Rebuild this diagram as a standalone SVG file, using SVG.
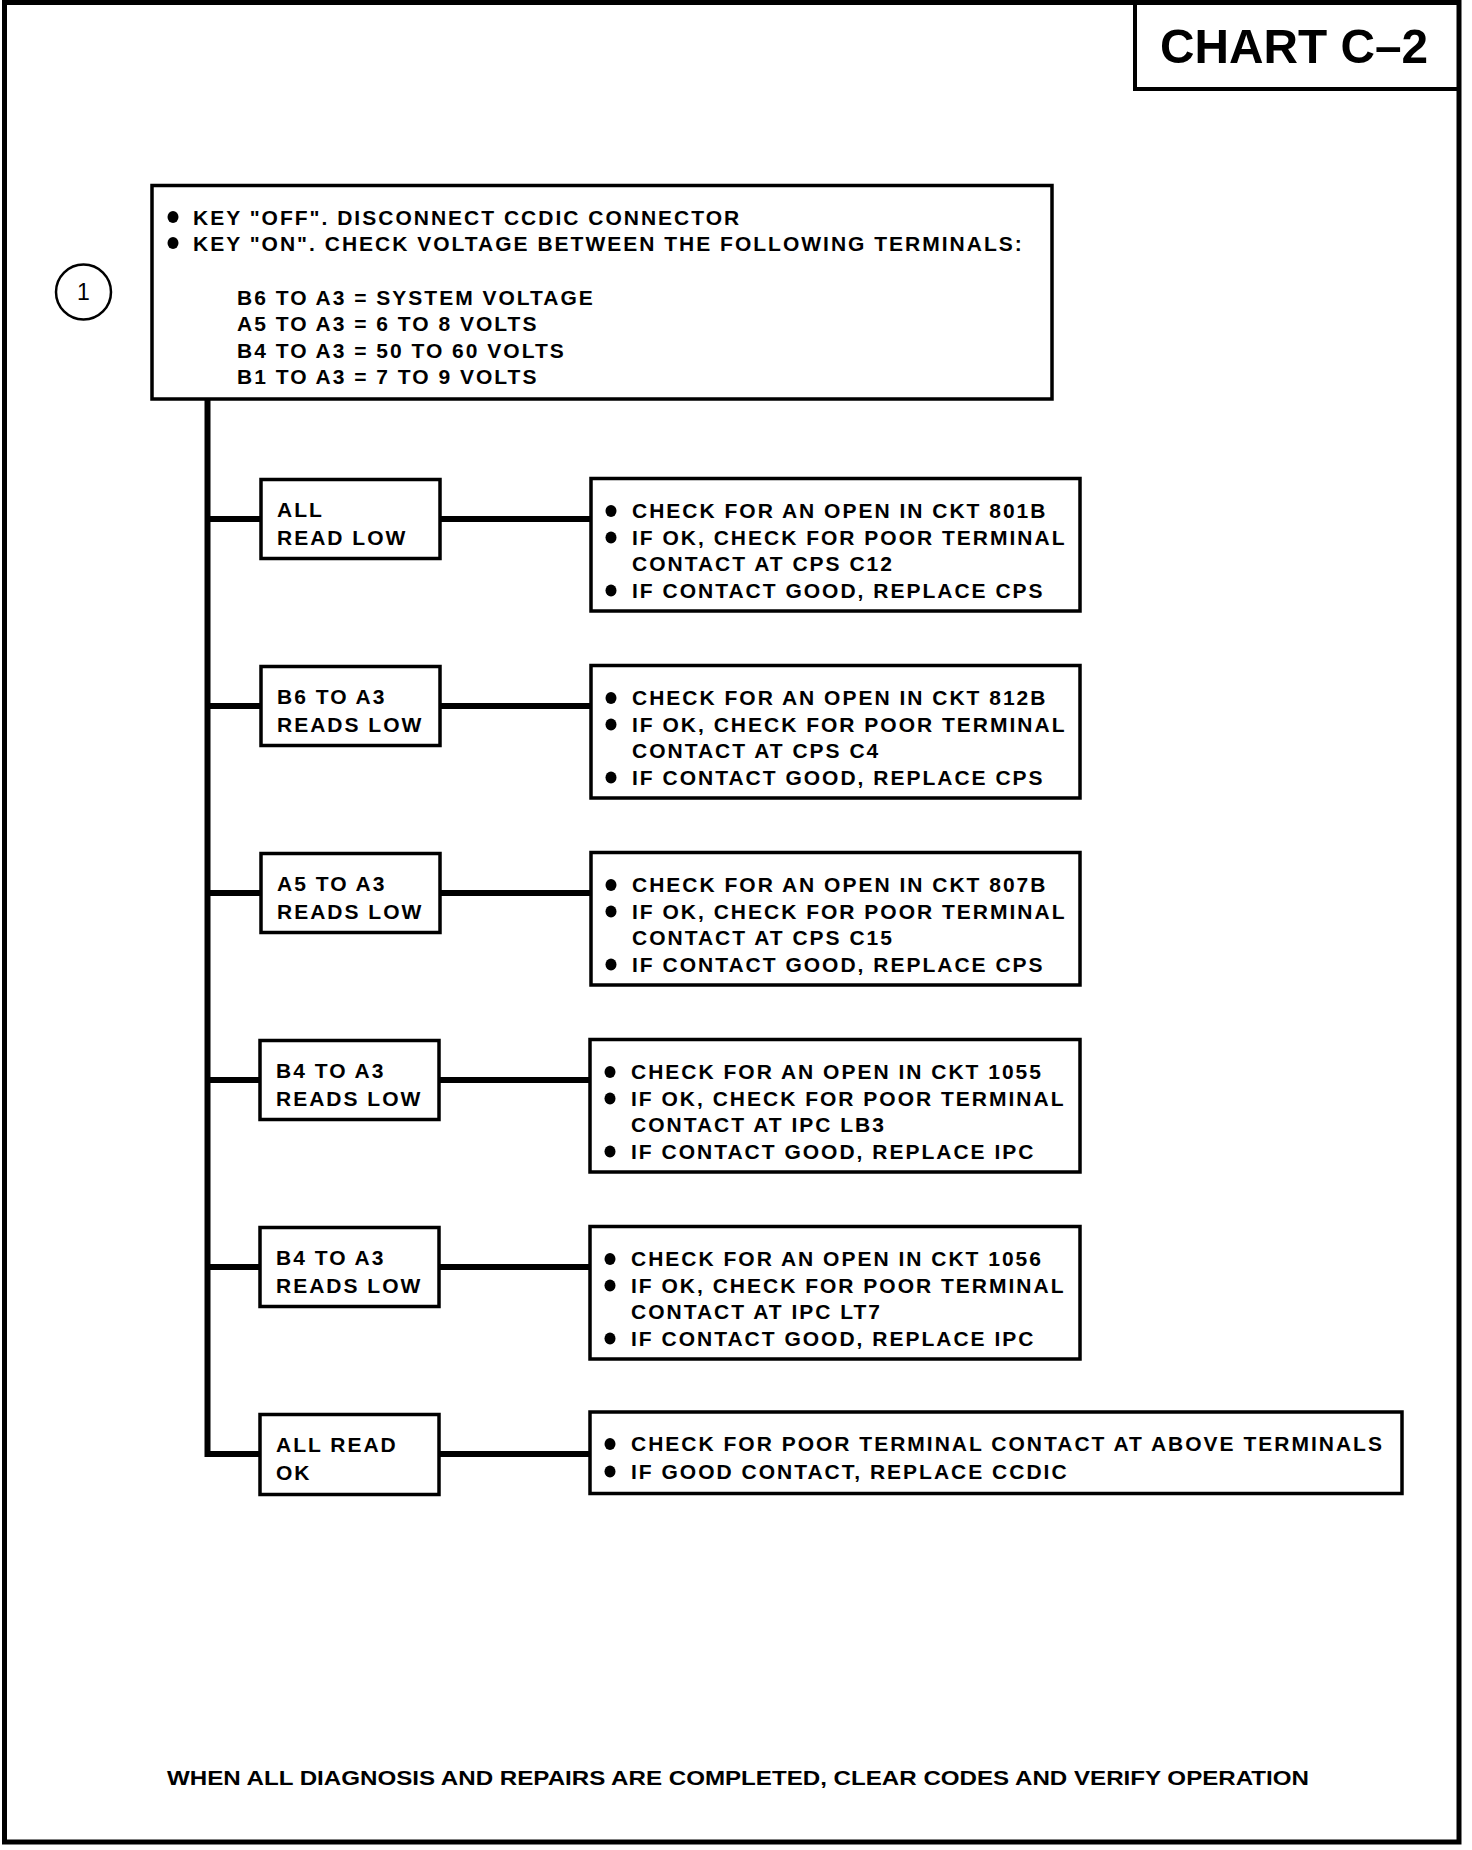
<svg xmlns="http://www.w3.org/2000/svg" width="1472" height="1850" viewBox="0 0 1472 1850">
<style>
text{font-family:"Liberation Sans",Arial,sans-serif;fill:#000}
.t{font-size:21px;font-weight:bold;letter-spacing:2px}
.box{fill:#fff;stroke:#000;stroke-width:3.5}
.conn{fill:none;stroke:#000;stroke-width:6}
.frame{fill:none;stroke:#000;stroke-width:5}
</style>
<defs>
<ellipse id="dot" rx="5.5" ry="6" fill="#000"/>
</defs>
<rect width="1472" height="1850" fill="#fff"/>
<g id="frame">
<rect class="frame" x="4.5" y="2.5" width="1454.5" height="1839.5"/>
</g>
<g id="title">
<path d="M1135,0 V89 H1459" fill="none" stroke="#000" stroke-width="4"/>
<text x="1160" y="63" font-size="49" font-weight="bold" textLength="268" lengthAdjust="spacingAndGlyphs">CHART C–2</text>
</g>
<g id="connectors">
<path class="conn" d="M207.5,399 V1454 H261"/>
<path class="conn" d="M207.5,519 H261 M440,519 H590"/>
<path class="conn" d="M207.5,706 H261 M440,706 H590"/>
<path class="conn" d="M207.5,893 H261 M440,893 H590"/>
<path class="conn" d="M207.5,1080 H261 M440,1080 H590"/>
<path class="conn" d="M207.5,1267 H261 M440,1267 H590"/>
<path d="M440,1454 H590" class="conn"/>
</g>
<g id="step1">
<circle cx="83.5" cy="292" r="27.5" fill="none" stroke="#000" stroke-width="2.5"/>
<text x="83.5" y="300" font-size="23" text-anchor="middle">1</text>
</g>
<g id="start">
<rect class="box" x="152" y="185.5" width="900" height="213.5"/>
<use href="#dot" x="173" y="217"/>
<text class="t" x="193" y="224.5">KEY "OFF". DISCONNECT CCDIC CONNECTOR</text>
<use href="#dot" x="173" y="243"/>
<text class="t" x="193" y="250.5">KEY "ON". CHECK VOLTAGE BETWEEN THE FOLLOWING TERMINALS:</text>
<text class="t" x="237" y="304.5">B6 TO A3 = SYSTEM VOLTAGE</text>
<text class="t" x="237" y="331">A5 TO A3 = 6 TO 8 VOLTS</text>
<text class="t" x="237" y="357.5">B4 TO A3 = 50 TO 60 VOLTS</text>
<text class="t" x="237" y="384">B1 TO A3 = 7 TO 9 VOLTS</text>
</g>
<g id="cond1">
<rect class="box" x="261" y="479.5" width="179" height="79"/>
<text class="t" x="277" y="517">ALL</text>
<text class="t" x="277" y="545">READ LOW</text>
</g>
<g id="act1">
<rect class="box" x="591" y="478.5" width="489" height="132.5"/>
<use href="#dot" x="611" y="511"/>
<text class="t" x="632" y="518">CHECK FOR AN OPEN IN CKT 801B</text>
<use href="#dot" x="611" y="537.5"/>
<text class="t" x="632" y="544.5">IF OK, CHECK FOR POOR TERMINAL</text>
<text class="t" x="632" y="571">CONTACT AT CPS C12</text>
<use href="#dot" x="611" y="590.5"/>
<text class="t" x="632" y="597.5">IF CONTACT GOOD, REPLACE CPS</text>
</g>
<g id="cond2">
<rect class="box" x="261" y="666.5" width="179" height="79"/>
<text class="t" x="277" y="704">B6 TO A3</text>
<text class="t" x="277" y="732">READS LOW</text>
</g>
<g id="act2">
<rect class="box" x="591" y="665.5" width="489" height="132.5"/>
<use href="#dot" x="611" y="698"/>
<text class="t" x="632" y="705">CHECK FOR AN OPEN IN CKT 812B</text>
<use href="#dot" x="611" y="724.5"/>
<text class="t" x="632" y="731.5">IF OK, CHECK FOR POOR TERMINAL</text>
<text class="t" x="632" y="758">CONTACT AT CPS C4</text>
<use href="#dot" x="611" y="777.5"/>
<text class="t" x="632" y="784.5">IF CONTACT GOOD, REPLACE CPS</text>
</g>
<g id="cond3">
<rect class="box" x="261" y="853.5" width="179" height="79"/>
<text class="t" x="277" y="891">A5 TO A3</text>
<text class="t" x="277" y="919">READS LOW</text>
</g>
<g id="act3">
<rect class="box" x="591" y="852.5" width="489" height="132.5"/>
<use href="#dot" x="611" y="885"/>
<text class="t" x="632" y="892">CHECK FOR AN OPEN IN CKT 807B</text>
<use href="#dot" x="611" y="911.5"/>
<text class="t" x="632" y="918.5">IF OK, CHECK FOR POOR TERMINAL</text>
<text class="t" x="632" y="945">CONTACT AT CPS C15</text>
<use href="#dot" x="611" y="964.5"/>
<text class="t" x="632" y="971.5">IF CONTACT GOOD, REPLACE CPS</text>
</g>
<g id="cond4">
<rect class="box" x="260" y="1040.5" width="179" height="79"/>
<text class="t" x="276" y="1078">B4 TO A3</text>
<text class="t" x="276" y="1106">READS LOW</text>
</g>
<g id="act4">
<rect class="box" x="590" y="1039.5" width="490" height="132.5"/>
<use href="#dot" x="610" y="1072"/>
<text class="t" x="631" y="1079">CHECK FOR AN OPEN IN CKT 1055</text>
<use href="#dot" x="610" y="1098.5"/>
<text class="t" x="631" y="1105.5">IF OK, CHECK FOR POOR TERMINAL</text>
<text class="t" x="631" y="1132">CONTACT AT IPC LB3</text>
<use href="#dot" x="610" y="1151.5"/>
<text class="t" x="631" y="1158.5">IF CONTACT GOOD, REPLACE IPC</text>
</g>
<g id="cond5">
<rect class="box" x="260" y="1227.5" width="179" height="79"/>
<text class="t" x="276" y="1265">B4 TO A3</text>
<text class="t" x="276" y="1293">READS LOW</text>
</g>
<g id="act5">
<rect class="box" x="590" y="1226.5" width="490" height="132.5"/>
<use href="#dot" x="610" y="1259"/>
<text class="t" x="631" y="1266">CHECK FOR AN OPEN IN CKT 1056</text>
<use href="#dot" x="610" y="1285.5"/>
<text class="t" x="631" y="1292.5">IF OK, CHECK FOR POOR TERMINAL</text>
<text class="t" x="631" y="1319">CONTACT AT IPC LT7</text>
<use href="#dot" x="610" y="1338.5"/>
<text class="t" x="631" y="1345.5">IF CONTACT GOOD, REPLACE IPC</text>
</g>
<g id="cond6">
<rect class="box" x="260" y="1414.5" width="179" height="80"/>
<text class="t" x="276" y="1452">ALL READ</text>
<text class="t" x="276" y="1480">OK</text>
</g>
<g id="act6">
<rect class="box" x="590" y="1412" width="812" height="81.5"/>
<use href="#dot" x="610" y="1444"/>
<text class="t" x="631" y="1451">CHECK FOR POOR TERMINAL CONTACT AT ABOVE TERMINALS</text>
<use href="#dot" x="610" y="1471.5"/>
<text class="t" x="631" y="1478.5">IF GOOD CONTACT, REPLACE CCDIC</text>
</g>
<g id="footer">
<text x="167" y="1785" font-size="20" font-weight="bold" textLength="1142" lengthAdjust="spacingAndGlyphs">WHEN ALL DIAGNOSIS AND REPAIRS ARE COMPLETED, CLEAR CODES AND VERIFY OPERATION</text>
</g>
</svg>
